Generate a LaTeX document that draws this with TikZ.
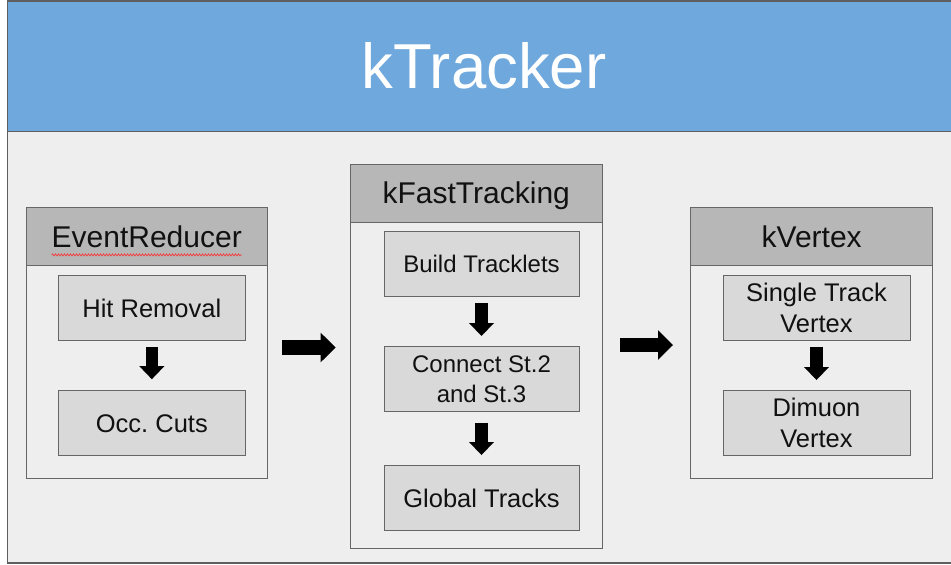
\documentclass[tikz,border=0pt]{standalone}
\usepackage{fontspec}
\setmainfont{Liberation Sans}
\usetikzlibrary{arrows.meta,decorations.pathmorphing,calc}
\frenchspacing

\definecolor{titleblue}{HTML}{6FA8DC}
\definecolor{panel}{HTML}{EEEEEE}
\definecolor{hdrgray}{HTML}{B7B7B7}
\definecolor{stepgray}{HTML}{D9D9D9}
\definecolor{edgegray}{HTML}{666666}
\definecolor{frameedge}{HTML}{5F5F5F}
\definecolor{inkblack}{HTML}{111111}

\tikzset{
  hdr/.style={draw=edgegray, fill=hdrgray, line width=1pt, inner sep=0pt,
    outer sep=0pt, anchor=north west, text=inkblack,
    font=\fontsize{30}{36}\selectfont, text height=21.6pt, text depth=0pt},
  grpbody/.style={draw=edgegray, fill=panel, line width=1pt, inner sep=0pt,
    outer sep=0pt, anchor=north west},
  stepbox/.style={draw=edgegray, fill=stepgray, line width=1pt, inner sep=0pt,
    outer sep=0pt, anchor=north west, align=center, text=inkblack,
    font=\fontsize{25.5}{31}\selectfont},
  oneline/.style={text height=18.3pt, text depth=0pt},
  downarrow/.style={line width=12.5pt,
    -{Triangle[length=13pt,width=25pt,line width=0pt]}},
  bigarrow/.style={line width=14.5pt,
    -{Triangle[length=15pt,width=29.5pt,line width=0pt]}},
}

\begin{document}
\begin{tikzpicture}[x=1pt,y=-1pt]
\useasboundingbox (0,0) rectangle (951,565);

% slide background and title band
\fill[panel] (8,0) rectangle (956,563);
\fill[titleblue] (8,0) rectangle (956,131);
\draw[frameedge, line width=1.5pt] (8,131.5) -- (956,131.5);
\draw[frameedge, line width=1.8pt] (7.5,0.6) -- (956,0.6);
\draw[frameedge, line width=1.8pt] (7.5,0) -- (7.5,563) -- (956,563);

\node[text=white, font=\fontsize{63.5}{70}\selectfont, text height=45.7pt,
  text depth=0pt, inner sep=0pt] (title) at (484,66) {kTracker};

% EventReducer group
\node[grpbody, minimum width=241.5, minimum height=212.3] (erb) at (26,265.7) {};
\node[hdr, minimum width=241.5, minimum height=58.7] (erh) at (26,207) {EventReducer};
\draw[red!85!white, line width=0.6pt, decorate,
  decoration={zigzag, segment length=3pt, amplitude=1pt}]
  ($(erh.center)+(-95,18.5)$) -- ($(erh.center)+(95,18.5)$);
\node[stepbox, oneline, minimum width=186.3, minimum height=65.7] (hit) at (58.7,275) {Hit Removal};
\node[stepbox, oneline, minimum width=186.3, minimum height=65.7] (occ) at (58.7,390) {Occ. Cuts};
\draw[downarrow, shorten <=6.3pt, shorten >=10.8pt] (hit.south) -- (occ.north);

% kFastTracking group
\node[grpbody, minimum width=252.5, minimum height=326] (kfb) at (350,222) {};
\node[hdr, minimum width=252.5, minimum height=58] (kfh) at (350,164) {kFastTracking};
\node[stepbox, oneline, minimum width=195, minimum height=65, font=\fontsize{24}{30}\selectfont, text height=17.3pt] (build) at (384,231.7) {Build Tracklets};
\node[stepbox, minimum width=195, minimum height=65, font=\fontsize{24}{30}\selectfont] (conn) at (384,346.7) {Connect St.2\\and St.3};
\node[stepbox, oneline, minimum width=195, minimum height=65] (glob) at (384,465.7) {Global Tracks};
\draw[downarrow, shorten <=6.3pt, shorten >=10.7pt] (build.south) -- (conn.north);
\draw[downarrow, shorten <=11pt, shorten >=10.7pt] (conn.south) -- (glob.north);

% kVertex group
\node[grpbody, minimum width=242, minimum height=212.3] (kvb) at (690.7,265.7) {};
\node[hdr, minimum width=242, minimum height=58.7] (kvh) at (690.7,207) {kVertex};
\node[stepbox, minimum width=187, minimum height=65.7] (single) at (723,275) {Single Track\\Vertex};
\node[stepbox, minimum width=187, minimum height=65.7] (dimuon) at (723,390) {Dimuon\\Vertex};
\draw[downarrow, shorten <=6pt, shorten >=10pt] (single.south) -- (dimuon.north);

% flow between the groups
\coordinate (flowA) at (0,347.5);
\coordinate (flowB) at (0,345);
\draw[bigarrow, shorten <=14.8pt, shorten >=14.3pt] (erb.east |- flowA) -- (kfb.west |- flowA);
\draw[bigarrow, shorten <=17.5pt, shorten >=17.7pt] (kfb.east |- flowB) -- (kvb.west |- flowB);
\end{tikzpicture}
\end{document}
